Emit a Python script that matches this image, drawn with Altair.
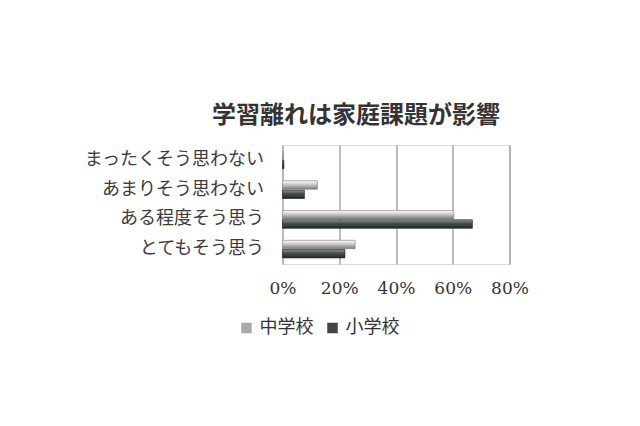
import altair as alt
import pandas as pd

categories = ["まったくそう思わない", "あまりそう思わない", "ある程度そう思う", "とてもそう思う"]
series = ["中学校", "小学校"]
junior_high = [0.003, 0.123, 0.604, 0.256]
elementary = [0.005, 0.077, 0.669, 0.220]
x_ticks = [0, 0.2, 0.4, 0.6, 0.8]
series_colors = ["#a9a9a9", "#3f4545"]

rows = []
for c, j, e in zip(categories, junior_high, elementary):
    rows.append({"category": c, "school": series[0], "value": j})
    rows.append({"category": c, "school": series[1], "value": e})
df = pd.DataFrame(rows)

grad_jr = alt.LinearGradient(
    gradient="linear",
    stops=[alt.GradientStop(color="#ffffff", offset=0),
           alt.GradientStop(color="#cfcfcf", offset=0.4),
           alt.GradientStop(color="#7c7c7c", offset=1)],
    x1=0, x2=0, y1=0, y2=1)
grad_el = alt.LinearGradient(
    gradient="linear",
    stops=[alt.GradientStop(color="#8f9696", offset=0),
           alt.GradientStop(color="#4a5151", offset=0.4),
           alt.GradientStop(color="#222626", offset=1)],
    x1=0, x2=0, y1=0, y2=1)

x_enc = alt.X("value:Q", scale=alt.Scale(domain=[0, 0.8]),
              axis=alt.Axis(values=x_ticks, format=".0%", title=None, grid=True,
                            gridColor="#7a7a7a", gridWidth=1, domain=False, ticks=False,
                            labelFlush=False, labelOverlap=False, labelBound=False,
                            labelPadding=16, labelFont="DejaVu Serif", labelFontSize=17,
                            labelColor="#333333"))
y_enc = alt.Y("category:N", sort=categories,
              scale=alt.Scale(paddingInner=0, paddingOuter=0),
              axis=alt.Axis(title=None, ticks=False, domain=True, domainColor="#c0c0c0",
                            labelPadding=19, labelFont="Noto Sans CJK JP", labelFontSize=18,
                            labelColor="#3a3a3a", grid=False))
yoff_enc = alt.YOffset("school:N", sort=series,
                       scale=alt.Scale(paddingInner=0.1, paddingOuter=0.65))

base = alt.Chart(df)

legend_layer = base.mark_bar().encode(
    x=x_enc, y=y_enc, yOffset=yoff_enc,
    color=alt.Color("school:N", sort=series,
                    scale=alt.Scale(domain=series, range=series_colors),
                    legend=alt.Legend(title=None, orient="none", legendX=-45, legendY=174,
                                      direction="horizontal", symbolType="square",
                                      symbolSize=110, symbolStrokeWidth=0,
                                      labelFont="Noto Sans CJK JP", labelFontSize=18,
                                      labelColor="#333333", columnPadding=10)))

grad_layer = base.mark_bar(strokeWidth=0.6).encode(
    x=x_enc, y=y_enc, yOffset=yoff_enc,
    fill=alt.condition("datum.school === '中学校'", alt.value(grad_jr), alt.value(grad_el)),
    stroke=alt.condition("datum.school === '中学校'", alt.value("#8a8a8a"), alt.value("#262a2a")))

chart = alt.layer(legend_layer, grad_layer).properties(
    width=227, height=119,
    autosize=alt.AutoSizeParams(type="none"),
    padding={"left": 274.5, "top": 137, "right": 122.5, "bottom": 154},
    title=alt.Title("学習離れは家庭課題が影響", font="Noto Sans CJK JP", fontSize=24,
                    fontWeight="bold", color="#333333", anchor="middle", dx=-40, offset=17),
).configure_view(stroke=None).configure(background="white")

chart.save("out.html", embed_options={"renderer": "svg", "actions": False})
